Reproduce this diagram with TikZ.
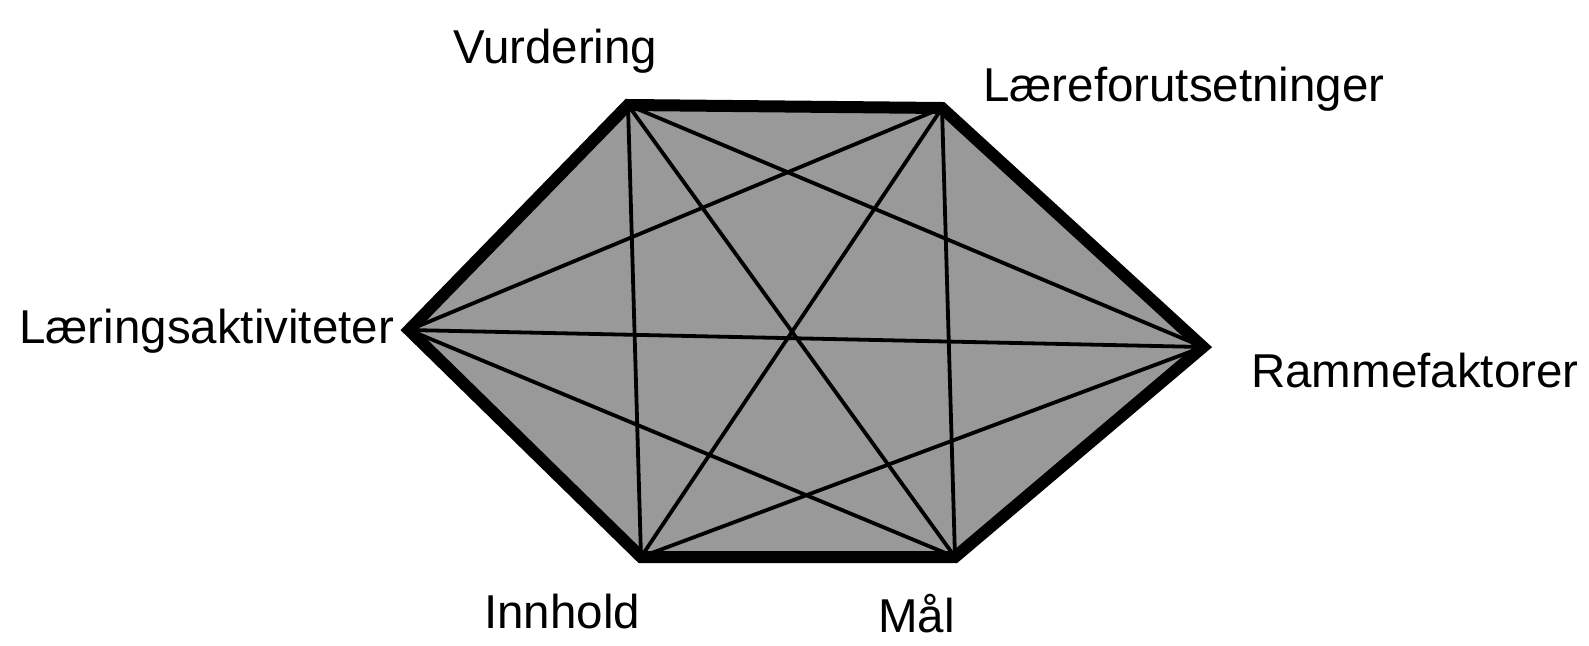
\documentclass[tikz,border=0pt]{standalone}
\usepackage{fontspec}
\setmainfont{Liberation Sans}
\tikzset{
  rim/.style={line width=12pt, draw=black, fill=black!40, line join=miter},
  spoke/.style={line width=3.8pt, draw=black},
  tag/.style={anchor=base west, inner sep=0pt, font=\fontsize{47.5}{52}\selectfont},
}
\begin{document}
\begin{tikzpicture}[x=1pt, y=-1pt]
  \useasboundingbox (0,0) rectangle (1589,645);
  % corners of the hexagon
  \coordinate (vur) at (628,105);
  \coordinate (laf) at (942,108);
  \coordinate (ram) at (1203,347);
  \coordinate (maal) at (955,557);
  \coordinate (inn) at (641,557);
  \coordinate (lak) at (409,330);

  \draw [rim] (vur) -- (laf) -- (ram) -- (maal) -- (inn) -- (lak) -- cycle;

  % every pair that is not a side
  \foreach \a/\b in {vur/ram, vur/maal, vur/inn, laf/maal, laf/inn, laf/lak,
                     ram/inn, ram/lak, maal/lak}
    \draw [spoke] (\a) -- (\b);

  \node (tvur)  [tag] at (453,63)  {Vurdering};
  \node (tlaf)  [tag] at (983,101) {Læreforutsetninger};
  \node (tlak)  [tag] at (19,343)  {Læringsaktiviteter};
  \node (tram)  [tag] at (1251,387) {Rammefaktorer};
  \node (tinn)  [tag] at (484,628) {Innhold};
  \node (tmaal) [tag] at (878,632) {Mål};
\end{tikzpicture}
\end{document}
